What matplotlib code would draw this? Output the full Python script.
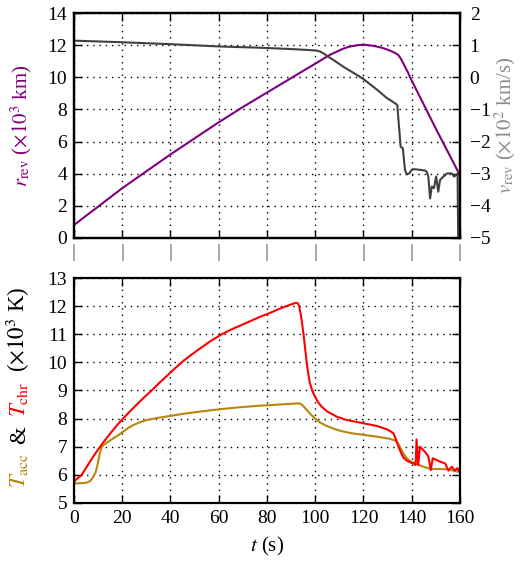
import numpy as np
import matplotlib
matplotlib.use('Agg')
import matplotlib.pyplot as plt

plt.rcParams['font.family'] = 'serif'
plt.rcParams['font.serif'] = ['Liberation Serif', 'DejaVu Serif']
plt.rcParams['mathtext.fontset'] = 'stix'
plt.rcParams['font.size'] = 14
plt.rcParams['axes.unicode_minus'] = True

# ---------------- data ----------------
# top panel: r_rev (x10^3 km)
t_r = [0, 10, 20, 30, 40, 50, 60, 70, 80, 90, 95, 100.6, 106.1, 111.6, 114, 117.2, 119, 121.3,
       124, 126.8, 129, 131, 133, 134.4, 135.5, 136.5, 138.6, 139.3, 145, 150, 155, 160]
r_rev = [0.81, 1.95, 3.1, 4.15, 5.2, 6.2, 7.2, 8.15, 9.05, 9.95, 10.4, 10.9, 11.4, 11.78, 11.9, 11.99, 12.02, 12.01,
         11.96, 11.87, 11.77, 11.66, 11.52, 11.39, 11.15, 10.87, 10.25, 10.0, 8.3, 6.8, 5.35, 3.9]

# top panel: v_rev (x10^2 km/s)
t_v = [0, 20, 40, 60, 77, 89.5, 97, 100.6, 102, 103.3, 105, 107.5, 111.6, 116, 119.9, 125.5, 129.6,
       133.5, 134.0, 135.4, 136.3, 137.2, 137.9, 139.0, 140.0, 141.3, 143.4, 145.5, 146.2, 146.9,
       147.6, 148.3, 149.2, 150.1, 151.0, 151.7, 153.1, 154.7, 156.6, 157.6, 158.6, 159.0, 159.3]
v_rev = [1.14, 1.09, 1.03, 0.96, 0.92, 0.88, 0.85, 0.83, 0.8, 0.75, 0.66, 0.54, 0.33, 0.13, -0.05, -0.38, -0.64,
         -0.83, -0.86, -2.16, -2.21, -2.88, -3.02, -2.99, -2.88, -2.86, -2.88, -2.9, -2.94, -3.1,
         -3.77, -3.4, -3.45, -3.09, -3.56, -3.2, -3.09, -2.99, -2.99, -3.09, -3.02, -3.0, -5.3]

# bottom panel: T_chr (x10^3 K)
t_chr = [0, 1.5, 3.2, 5, 7, 9, 10.8, 13, 15.5, 18, 20.3, 23, 26, 29, 32.2, 35, 38, 41, 44.6, 48,
         52, 56, 61.2, 66, 70, 74, 77.1, 81, 85, 88, 90, 92, 92.8, 93.4, 94.2, 95.1, 95.8, 96.5,
         97.2, 97.8, 98.8, 99.9, 101.2, 102.7, 105, 108.9, 113, 118.5, 122, 125.5, 128, 129.6,
         131, 132.4, 133.5, 134.5, 135.5, 136.5, 138, 139.3, 140.6, 141.6, 142.0, 142.7, 143.4,
         145.5, 146.9, 147.9, 148.7, 150.3, 151.7, 153.8, 155.2, 156.6, 157.9, 158.9, 159.7]
T_chr = [5.76, 5.88, 6.0, 6.25, 6.52, 6.78, 7.0, 7.25, 7.52, 7.78, 8.0, 8.24, 8.5, 8.75, 9.0, 9.24, 9.48, 9.72, 10.0, 10.23,
         10.48, 10.72, 11.0, 11.2, 11.35, 11.5, 11.62, 11.75, 11.9, 12.0, 12.06, 12.12, 12.1, 11.98, 11.6, 11.03, 10.5, 9.97,
         9.55, 9.26, 8.98, 8.78, 8.58, 8.42, 8.25, 8.07, 7.95, 7.86, 7.8, 7.74, 7.67, 7.62,
         7.56, 7.48, 7.25, 7.0, 6.8, 6.62, 6.5, 6.45, 6.41, 6.35, 7.26, 6.35, 7.0,
         6.82, 6.65, 6.17, 6.59, 6.53, 6.47, 6.41, 6.15, 6.29, 6.15, 6.24, 6.13]

# bottom panel: T_acc (x10^3 K)
t_acc = [0, 2, 4, 5.5, 6.6, 7.5, 8.3, 9, 9.6, 10.2, 10.8, 11.5, 12.2, 14, 16.3, 18.5, 20.4, 22.5,
         24.6, 27, 30.1, 35, 40.2, 46, 52.2, 60.2, 68, 77.1, 85, 92.3, 93.7, 95, 96.5, 98, 99.9,
         102, 104.7, 108, 111.6, 115, 118.5, 125.5, 131, 133, 133.8, 134.8, 135.8, 136.8, 137.9,
         139.5, 141.3, 144.8, 148.3, 150.3, 154.4, 157.3, 160]
T_acc = [5.70, 5.70, 5.71, 5.73, 5.78, 5.86, 5.98, 6.1, 6.3, 6.55, 6.8, 6.98, 7.06, 7.17, 7.3, 7.42, 7.54, 7.67,
         7.77, 7.86, 7.95, 8.03, 8.1, 8.18, 8.25, 8.33, 8.4, 8.46, 8.5, 8.54, 8.54, 8.45, 8.31, 8.16, 8.01,
         7.86, 7.74, 7.63, 7.54, 7.48, 7.44, 7.36, 7.28, 7.22, 7.18, 7.05, 6.88, 6.72, 6.59,
         6.48, 6.41, 6.29, 6.2, 6.21, 6.2, 6.15, 6.1]

xticks = [0, 20, 40, 60, 80, 100, 120, 140, 160]

purple = '#800080'
gray = '#404040'
red = '#ff0000'
gold = '#b8860b'

fig = plt.figure(figsize=(5.2, 5.63), dpi=100)
ax1 = fig.add_axes([0.1423, 0.5773, 0.7423, 0.3996])
ax2 = fig.add_axes([0.1423, 0.1066, 0.7423, 0.3996])

############ top panel ############
ax1.plot(t_r, r_rev, color=purple, lw=1.5, zorder=3)
ax1.set_xlim(0, 160)
ax1.set_ylim(0, 14)
ax1.set_xticks(xticks)
ax1.set_xticklabels(['|'] * len(xticks), color='0.35')
ax1.set_yticks(np.arange(0, 15, 2))
ax1.grid(True, color='k', ls=(0, (1, 3.5)), lw=1)
ax1.tick_params(direction='in', length=6, width=1, top=True, right=False, pad=5)
ax1.tick_params(axis='x', pad=4)
ax1.set_ylabel(r'$r_{\rm rev}$ ($\times10^3$ km)', color=purple, fontsize=15)
ax1.yaxis.set_label_coords(-0.104, 0.5)

tw = ax1.twinx()
tw.plot(t_v, v_rev, color=gray, lw=1.5)
tw.set_ylim(-5, 2)
tw.set_yticks(np.arange(-5, 3, 1))
tw.tick_params(direction='in', length=6, width=1, pad=7)
tw.set_ylabel(r'$v_{\rm rev}$ ($\times10^2$ km/s)', color='0.55', fontsize=15)
tw.yaxis.set_label_coords(1.084, 0.5)

############ bottom panel ############
ax2.plot(t_acc, T_acc, color=gold, lw=1.5)
ax2.plot(t_chr, T_chr, color=red, lw=1.5)
ax2.set_xlim(0, 160)
ax2.set_ylim(5, 13)
ax2.set_xticks(xticks)
ax2.set_yticks(np.arange(5, 14, 1))
ax2.grid(True, color='k', ls=(0, (1, 3.5)), lw=1)
ax2.tick_params(direction='in', length=6, width=1, top=True, right=True, pad=5)
ax2.set_xlabel(r'$t$ (s)', fontsize=15, labelpad=6)

for a in [ax1, ax2, tw]:
    for s in a.spines.values():
        s.set_linewidth(1.6)

# multi-coloured y label for the bottom panel, stacked bottom to top
pieces = [(r'$T_{\rm acc}$', gold), (r'&', 'k'), (r'$T_{\rm chr}$', red), (r'($\times10^3$ K)', 'k')]
fig.canvas.draw()
rend = fig.canvas.get_renderer()
texts = []
for s, c in pieces:
    tx = fig.text(0, 0, s, color=c, rotation=90, rotation_mode='anchor',
                  ha='left', va='baseline', fontsize=16.5)
    texts.append((tx, tx.get_window_extent(rend).height))
gap = 9
y = 563 - 488
for tx, h in texts:
    tx.set_position((25 / 520, y / 563))
    y += h + gap

fig.savefig('out.png', dpi=100)
